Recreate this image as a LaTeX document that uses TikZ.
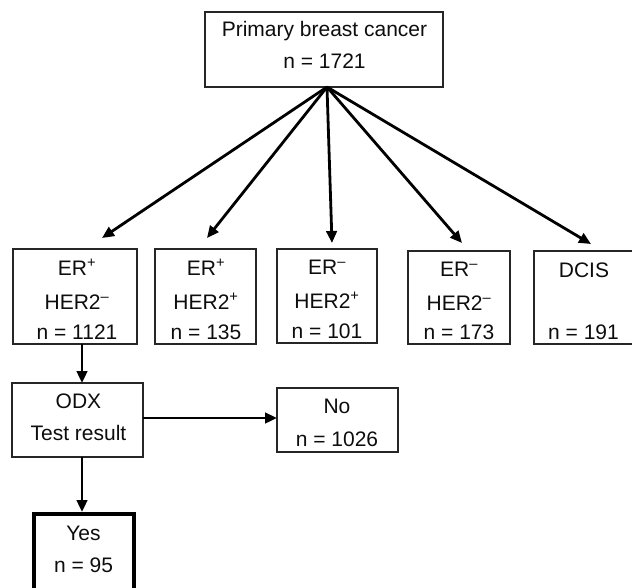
\documentclass[tikz,border=0pt]{standalone}
\usepackage{fontspec}
\setmainfont{Liberation Sans}
\usetikzlibrary{arrows.meta}
\begin{document}
\begin{tikzpicture}[x=1pt,y=-1pt,
  box/.style={draw=black!85, line width=1.3pt, inner sep=0pt, outer sep=0pt},
  bold box/.style={draw=black, line width=4.5pt, inner sep=0pt, outer sep=0pt},
  txt/.style={anchor=base, inner sep=0pt, outer sep=0pt, font=\fontsize{21}{25}\selectfont, text=black!95},
  arr/.style={line width=2.8pt, draw=black, -{Triangle[length=12pt,width=10.5pt]}},
]
\useasboundingbox (0,0) rectangle (632,587);
\clip (0,0) rectangle (632,587);

% boxes
\node[box, minimum width=238pt, minimum height=75pt] (top) at (324,49.5) {};
\node[box, minimum width=124pt, minimum height=95pt] (b1) at (75,296.5) {};
\node[box, minimum width=101pt, minimum height=95pt] (b2) at (205.5,296.5) {};
\node[box, minimum width=100pt, minimum height=94pt] (b3) at (327,296) {};
\node[box, minimum width=102pt, minimum height=93pt] (b4) at (459,297.5) {};
\node[box, minimum width=100pt, minimum height=93pt] (b5) at (584,297.5) {};
\node[box, minimum width=131pt, minimum height=74pt] (odx) at (77.5,420) {};
\node[box, minimum width=121pt, minimum height=64pt] (no) at (337.5,420) {};
\node[bold box, minimum width=100pt, minimum height=106pt] (yes) at (84,567) {};

% texts
\node[txt] (t0a) at (324.5,36) {Primary breast cancer};
\node[txt] (t0b) at (324.5,68) {n = 1721};

\node[txt] (t1a) at (77,275) {ER\textsuperscript{+}};
\node[txt] (t1b) at (77,309) {HER2\textsuperscript{–}};
\node[txt] (t1c) at (77,339) {n = 1121};

\node[txt] (t2a) at (206,275) {ER\textsuperscript{+}};
\node[txt] (t2b) at (206,309) {HER2\textsuperscript{+}};
\node[txt] (t2c) at (206,339) {n = 135};

\node[txt] (t3a) at (327,274) {ER\textsuperscript{–}};
\node[txt] (t3b) at (327,308) {HER2\textsuperscript{+}};
\node[txt] (t3c) at (327,338) {n = 101};

\node[txt] (t4a) at (459,276) {ER\textsuperscript{–}};
\node[txt] (t4b) at (459,310) {HER2\textsuperscript{–}};
\node[txt] (t4c) at (459,339) {n = 173};

\node[txt] (t5a) at (584,277) {DCIS};
\node[txt] (t5c) at (583.5,339) {n = 191};

\node[txt] (t6a) at (78.5,408) {ODX};
\node[txt] (t6b) at (78.5,440) {Test result};

\node[txt] (t7a) at (337,413) {No};
\node[txt] (t7b) at (337,446) {n = 1026};

\node[txt] (t8a) at (83.5,540) {Yes};
\node[txt] (t8b) at (83.5,572) {n = 95};

% fan arrows
\coordinate (fan) at (327,87);
\coordinate (e1) at (102,238);
\coordinate (e2) at (207,238);
\coordinate (e3) at (332,243);
\coordinate (e4) at (462,243);
\coordinate (e5) at (591,244);
\foreach \e in {e1,e2,e3,e4,e5} \draw[arr] (fan) -- (\e);

% lower arrows
\draw[arr] ([xshift=7pt]b1.south) -- ([xshift=4.5pt]odx.north);
\draw[arr, shorten >=2pt] ([xshift=4.5pt]odx.south) -- ([xshift=-2pt]yes.north);
\draw[arr] ([yshift=2pt]odx.east) -- ([yshift=2pt]no.west);
\end{tikzpicture}
\end{document}
